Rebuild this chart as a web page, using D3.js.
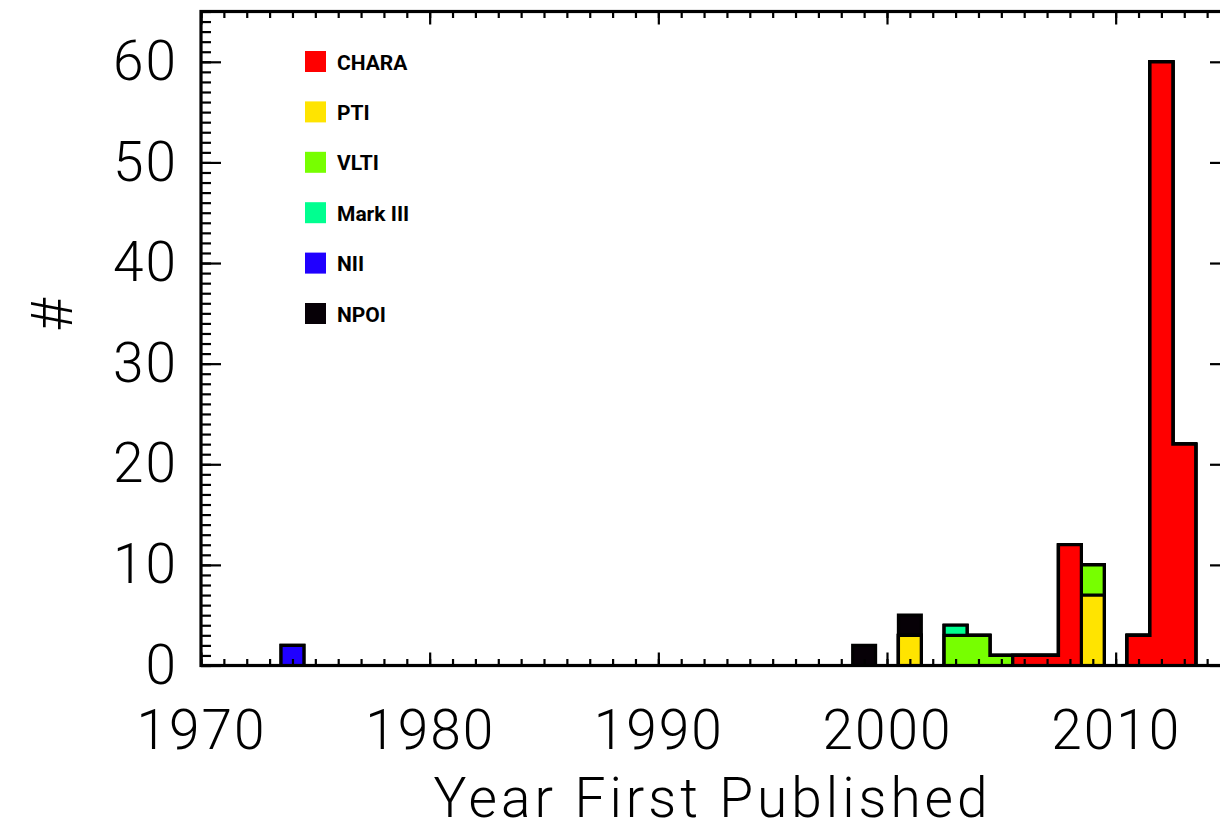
<!DOCTYPE html>
<html>
<head>
<meta charset="utf-8">
<script src="https://cdn.jsdelivr.net/npm/d3@7"></script>
<style>
  body { margin: 0; background: #fff; }
  svg { display: block; }
  .axis text { font-family: Roboto, "DejaVu Sans", sans-serif; font-weight: 300; font-size: 55px; fill: #000; letter-spacing: 2px; }
  .axis line { stroke: #000; stroke-width: 2.2px; }
  .axis path { display: none; }
</style>
</head>
<body>
<svg id="chart" width="1220" height="824"></svg>
<script>
// instruments, bottom of the stack first
var seriesNames = ["CHARA", "PTI", "VLTI", "Mark III", "NII", "NPOI"];
var seriesColors = ["#ff0000", "#ffe400", "#77ff00", "#00ff90", "#2000ff", "#060006"];

// [year, number of stars]
var chara   = [[2006, 1], [2007, 1], [2008, 12], [2011, 3], [2012, 60], [2013, 22]];
var pti     = [[2001, 3], [2009, 7]];
var vlti    = [[2003, 3], [2004, 3], [2005, 1], [2009, 3]];
var markIII = [[2003, 1]];
var nii     = [[1974, 2]];
var npoi    = [[1999, 2], [2001, 2]];

var xMajorTicks = [1970, 1980, 1990, 2000, 2010];
var yMajorTicks = [0, 10, 20, 30, 40, 50, 60];

var seriesData = [chara, pti, vlti, markIII, nii, npoi];

var svg = d3.select("#chart");

var plotLeft = 201, plotRight = 1230, plotTop = 11.5, plotBottom = 665.5;

var x = d3.scaleLinear().domain([1970, 2015]).range([plotLeft, plotRight]);
var y = d3.scaleLinear().domain([0, 65]).range([plotBottom, plotTop]);

// one row per year, with cumulative heights for each stacked level
var years = d3.range(1970, 2015);
var table = years.map(function(yr) {
  var row = {year: yr, cum: []};
  var sum = 0;
  seriesData.forEach(function(s) {
    var hit = s.find(function(p) { return p[0] === yr; });
    sum += hit ? hit[1] : 0;
    row.cum.push(sum);
  });
  return row;
});

var g = svg.append("g").attr("id", "bars");

// draw cumulative levels top first, each one painted over the previous
for (var k = seriesNames.length - 1; k >= 0; k--) {
  (function(k) {
    var area = d3.area()
      .x(function(d) { return x(d.year); })
      .y0(y(0))
      .y1(function(d) { return y(d.cum[k]); })
      .curve(d3.curveStep);
    g.append("path")
      .datum(table)
      .attr("d", area)
      .attr("fill", seriesColors[k])
      .attr("stroke", "#000")
      .attr("stroke-width", 3.2)
      .attr("stroke-linejoin", "miter");
  })(k);
}

// axes: minor ticks every unit, major every ten
function addAxis(axis, transform) {
  svg.append("g").attr("class", "axis").attr("transform", transform).call(axis);
}

addAxis(d3.axisBottom(x).tickValues(years.concat([2015])).tickSize(-6.5).tickFormat(""), "translate(0," + plotBottom + ")");
addAxis(d3.axisBottom(x).tickValues(xMajorTicks).tickSize(-13).tickPadding(44).tickFormat(d3.format("d")), "translate(0," + plotBottom + ")");
addAxis(d3.axisTop(x).tickValues(years).tickSize(-6.5).tickFormat(""), "translate(0," + plotTop + ")");
addAxis(d3.axisTop(x).tickValues(xMajorTicks).tickSize(-13).tickFormat(""), "translate(0," + plotTop + ")");

var yMinor = d3.range(0, 66);
addAxis(d3.axisLeft(y).tickValues(yMinor).tickSize(-10).tickFormat(""), "translate(" + plotLeft + ",0)");
addAxis(d3.axisLeft(y).tickValues(yMajorTicks).tickSize(-20).tickPadding(23).tickFormat(d3.format("d")), "translate(" + plotLeft + ",0)");
addAxis(d3.axisRight(y).tickValues(yMinor).tickSize(-10).tickFormat(""), "translate(" + plotRight + ",0)");
addAxis(d3.axisRight(y).tickValues(yMajorTicks).tickSize(-20).tickFormat(""), "translate(" + plotRight + ",0)");

// frame
svg.append("rect")
  .attr("x", plotLeft).attr("y", plotTop)
  .attr("width", plotRight - plotLeft).attr("height", plotBottom - plotTop)
  .attr("fill", "none").attr("stroke", "#000").attr("stroke-width", 3.2);

// axis titles
svg.append("text")
  .attr("x", (plotLeft + plotRight) / 2 - 3)
  .attr("y", 817)
  .attr("text-anchor", "middle")
  .attr("font-family", "Roboto, 'DejaVu Sans', sans-serif")
  .attr("font-weight", 300)
  .attr("font-size", 55)
  .attr("letter-spacing", 4)
  .text("Year First Published");

svg.append("text")
  .attr("transform", "translate(72,315) rotate(-90)")
  .attr("text-anchor", "middle")
  .attr("font-family", "Roboto, 'DejaVu Sans', sans-serif")
  .attr("font-weight", 300)
  .attr("font-size", 58)
  .text("#");

// legend
var legend = svg.append("g")
  .selectAll("g")
  .data(seriesNames)
  .enter().append("g")
    .attr("transform", function(d, i) { return "translate(305," + (51 + i * 50.4) + ")"; });

legend.append("rect")
  .attr("width", 21)
  .attr("height", 21)
  .attr("fill", function(d, i) { return seriesColors[i]; });

legend.append("text")
  .attr("x", 32)
  .attr("y", 18.5)
  .attr("font-family", "Roboto, 'DejaVu Sans', sans-serif")
  .attr("font-weight", 700)
  .attr("font-size", 21)
  .text(function(d) { return d; });
</script>
</body>
</html>
